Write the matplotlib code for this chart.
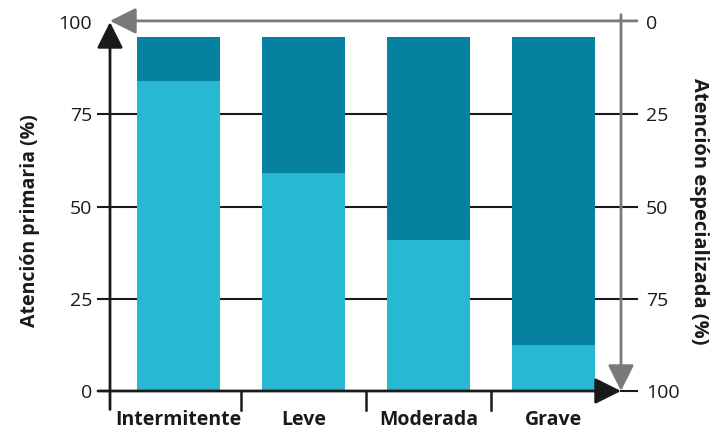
import matplotlib.pyplot as plt
import numpy as np

# datos
categorias = ['Intermitente', 'Leve', 'Moderada', 'Grave']
primaria = [84, 59, 41, 12.5]      # atención primaria (%)
total = [96, 96, 96, 96]           # altura total de cada barra
ticks_izq = [0, 25, 50, 75, 100]
ticks_der = [0, 25, 50, 75, 100]

claro = '#27b8d2'
oscuro = '#06819f'
gris = '#7a7a7a'

plt.rcParams['font.family'] = ['Open Sans', 'DejaVu Sans']

fig = plt.figure(figsize=(7.2, 4.34), dpi=100)
W, H = 720, 434
# eje en píxeles: x 110..621, y 22..391
ax = fig.add_axes([110 / W, 1 - 391 / H, (621 - 110) / W, (391 - 22) / H])
ppx = 1 / 125.0
x_izq, x_der = -0.548, 3.54
ax.set_xlim(x_izq, x_der)
ax.set_ylim(0, 100)
for s in ax.spines.values():
    s.set_visible(False)

x = np.arange(len(categorias))
ancho = 0.67
ax.bar(x, primaria, width=ancho, color=claro, zorder=3)
ax.bar(x, np.array(total) - np.array(primaria), bottom=primaria, width=ancho,
       color=oscuro, zorder=3)

# líneas de rejilla (negras, sobresalen de los ejes)
g0, g1 = x_izq - 12 * ppx, x_der + 16 * ppx
for v in [25, 50, 75]:
    ax.plot([g0, g1], [v, v], color='#1a1a1a', lw=1.5, zorder=1, clip_on=False)
ax.plot([x_der, g1], [0, 0], color='#1a1a1a', lw=1.5, zorder=1, clip_on=False)

flecha = '-|>,head_length=0.8,head_width=0.4'
# eje x con flecha
ax.annotate('', xy=(x_der, 0), xytext=(g0, 0),
            arrowprops=dict(arrowstyle=flecha, color='#1a1a1a', lw=2,
                            mutation_scale=20, shrinkA=0, shrinkB=0),
            zorder=5, annotation_clip=False)
# eje y izquierdo con flecha
ax.annotate('', xy=(x_izq, 100), xytext=(x_izq, -5),
            arrowprops=dict(arrowstyle=flecha, color='#1a1a1a', lw=2,
                            mutation_scale=20, shrinkA=0, shrinkB=0),
            zorder=5, annotation_clip=False)
# línea gris superior con flecha hacia la izquierda
ax.annotate('', xy=(x_izq, 100.3), xytext=(g1, 100.3),
            arrowprops=dict(arrowstyle=flecha, color=gris, lw=2,
                            mutation_scale=20, shrinkA=0, shrinkB=0),
            zorder=4, annotation_clip=False)
# eje gris derecho con flecha hacia abajo
ax.annotate('', xy=(x_der, 0), xytext=(x_der, 102),
            arrowprops=dict(arrowstyle=flecha, color=gris, lw=2,
                            mutation_scale=20, shrinkA=0, shrinkB=0),
            zorder=4, annotation_clip=False)

# separadores de categorías bajo el eje x
for b in [0.5, 1.5, 2.5]:
    ax.plot([b, b], [0, -5.2], color='#1a1a1a', lw=1.8, clip_on=False, zorder=4)

ax.set_xticks(x)
ax.set_xticklabels(categorias, fontsize=14, fontweight='bold', color='#1a1a1a')
ax.tick_params(axis='x', length=0, pad=14)
ax.set_yticks(ticks_izq)
ax.set_yticklabels([str(t) for t in ticks_izq], fontsize=14, color='#1a1a1a')
ax.tick_params(axis='y', length=0, pad=13)
ax.set_ylabel('Atención primaria (%)', fontsize=14, fontweight='bold',
              color='#1a1a1a', va='center')
ax.yaxis.set_label_coords(-0.157, 0.461)

ax2 = ax.twinx()
ax2.set_ylim(100, 0)
for s in ax2.spines.values():
    s.set_visible(False)
ax2.set_yticks(ticks_der)
ax2.set_yticklabels([str(t) for t in ticks_der], fontsize=14, color='#1a1a1a')
ax2.tick_params(axis='y', length=0, pad=18)
ax2.set_ylabel('Atención especializada (%)', fontsize=14.5, fontweight='bold',
               color='#1a1a1a', rotation=-90, va='center')
ax2.yaxis.set_label_coords(1.153, 0.488)

fig.savefig('out.png', dpi=100)
